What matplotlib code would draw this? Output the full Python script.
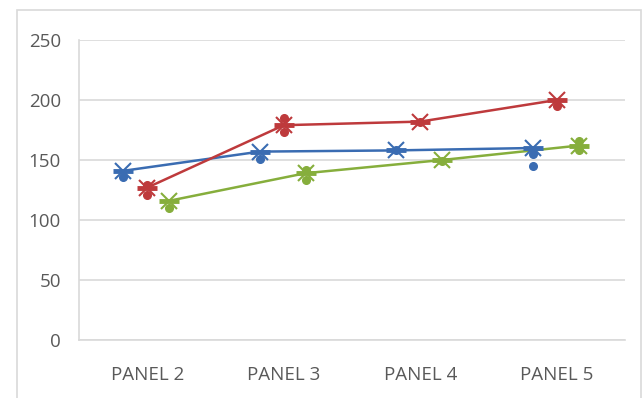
import matplotlib.pyplot as plt
from matplotlib.patches import Rectangle

# category labels and series values
panels = ['PANEL 2', 'PANEL 3', 'PANEL 4', 'PANEL 5']

blue_mean = [141, 157, 158, 160]
red_mean = [127, 179, 182, 200]
green_mean = [116, 139, 150, 162]

# individual readings shown as dots around each mean
blue_pts = [[136], [151], [158], [155, 145]]
red_pts = [[129, 121], [185, 173], [182], [195]]
green_pts = [[110], [142, 133], [149], [166, 158]]

series = [
    (blue_mean, blue_pts, '#3a6cb2', -0.175),
    (red_mean, red_pts, '#be3a3c', 0.0),
    (green_mean, green_pts, '#86ae3c', 0.16),
]

plt.rcParams['font.family'] = ['Open Sans', 'DejaVu Sans']

fig = plt.figure(figsize=(6.44, 3.98), dpi=100)
ax = fig.add_axes([79 / 644, 58 / 398, 546 / 644, 300 / 398])

# light frame around the whole chart
fig.patches.append(Rectangle((17 / 644, -0.05), 624 / 644, 1.05 - 10 / 398,
                             transform=fig.transFigure, fill=False,
                             edgecolor='#d9d9d9', linewidth=1.2))

for mean, pts, color, off in series:
    xs = [i + off for i in range(len(panels))]
    ax.plot(xs, mean, color=color, linewidth=1.8, zorder=3)
    # star marker: an x crossed by a thick horizontal bar
    ax.plot(xs, mean, linestyle='none', marker='x', markersize=11,
            markeredgewidth=1.5, color=color, zorder=4)
    ax.plot(xs, mean, linestyle='none', marker='_', markersize=15,
            markeredgewidth=3.5, color=color, zorder=4)
    for x, vals in zip(xs, pts):
        ax.plot([x] * len(vals), vals, linestyle='none', marker='o',
                markersize=5.5, color=color, zorder=4)

ax.set_xlim(-0.5, 3.5)
ax.set_ylim(0, 250)
ax.set_xticks(range(len(panels)))
ax.set_xticklabels(panels)
ax.set_yticks(range(0, 251, 50))
ax.yaxis.grid(True, color='#d9d9d9', linewidth=1.2)
ax.set_axisbelow(True)

for side in ['top', 'right']:
    ax.spines[side].set_visible(False)
for side in ['left', 'bottom']:
    ax.spines[side].set_color('#d9d9d9')
    ax.spines[side].set_linewidth(1.2)

ax.tick_params(axis='both', length=0, labelsize=13.5, colors='#595959')
ax.tick_params(axis='x', pad=19)
ax.tick_params(axis='y', pad=13)

fig.savefig('out.png', dpi=100)
